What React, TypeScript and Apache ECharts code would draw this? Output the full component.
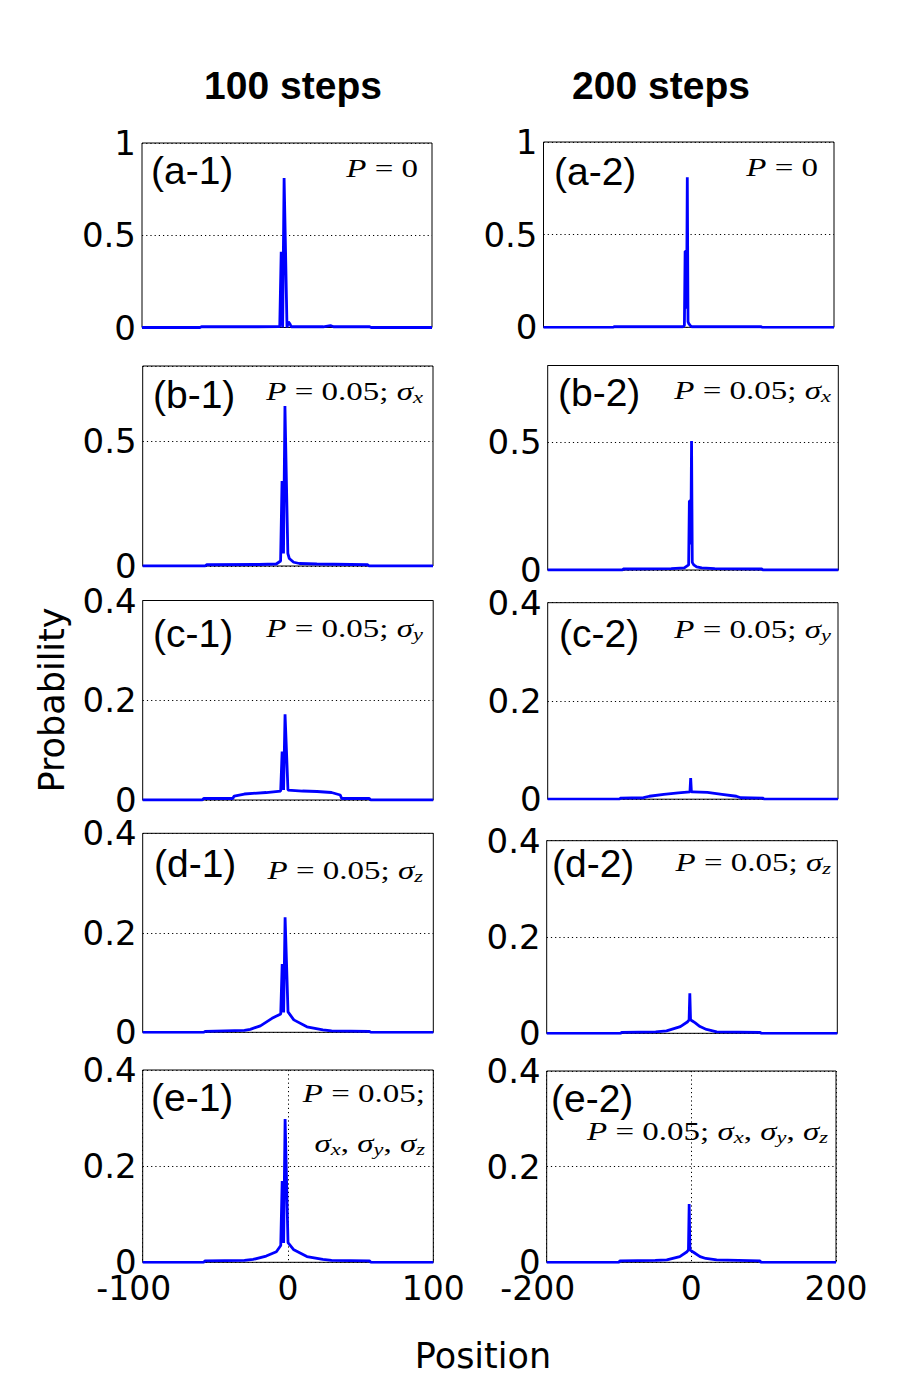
import React, { useEffect, useRef } from "react";
import * as echarts from "echarts";

// ---------- data ----------
const COLUMN_TITLES = ["100 steps", "200 steps"];
const PANEL_LABELS = ["(a-1)", "(a-2)", "(b-1)", "(b-2)", "(c-1)", "(c-2)", "(d-1)", "(d-2)", "(e-1)", "(e-2)"];
const Y_AXIS_NAME = "Probability";
const X_AXIS_NAME = "Position";

const POS_A1 = [-100, -60, -59, -20, -5, -4, -3, -2, -1, 0, 1, 2, 3, 25, 30, 32, 57, 58, 100];
const PROB_A1 = [0, 0, 0.004, 0.004, 0.005, 0.41, 0.0, 0.81, 0.41, 0.0, 0.03, 0.02, 0.004, 0.004, 0.01, 0.004, 0.004, 0, 0];

const POS_A2 = [-200, -104, -103, -8, -6, -5, -4, -3, -2, -1, 0, 2, 4, 100, 101, 200];
const PROB_A2 = [0, 0, 0.003, 0.003, 0.01, 0.41, 0.41, 0.1, 0.81, 0.03, 0.02, 0.01, 0.003, 0.003, 0, 0];

const POS_B1 = [-100, -57, -56, -20, -8, -5, -4, -3, -2, -1, 0, 1, 4, 8, 20, 55, 56, 100];
const PROB_B1 = [0, 0, 0.005, 0.006, 0.008, 0.02, 0.34, 0.05, 0.64, 0.34, 0.05, 0.03, 0.015, 0.01, 0.008, 0.005, 0, 0];

const POS_B2 = [-200, -97, -96, -30, -12, -6, -5, -4, -3, -2, -1, 1, 5, 12, 30, 95, 96, 200];
const PROB_B2 = [0, 0, 0.004, 0.005, 0.008, 0.02, 0.27, 0.27, 0.1, 0.505, 0.03, 0.02, 0.012, 0.008, 0.005, 0.004, 0, 0];

const POS_C1 = [-100, -59, -58, -38, -37, -30, -15, -5, -4, -3, -2, -1, 0, 10, 20, 30, 36, 37, 56, 57, 100];
const PROB_C1 = [0, 0, 0.003, 0.003, 0.008, 0.012, 0.015, 0.018, 0.097, 0.02, 0.172, 0.097, 0.02, 0.018, 0.017, 0.015, 0.01, 0.003, 0.003, 0, 0];

const POS_C2 = [-200, -101, -100, -68, -60, -40, -20, -4, -3, -2, 0, 20, 40, 60, 66, 97, 98, 200];
const PROB_C2 = [0, 0, 0.002, 0.003, 0.006, 0.01, 0.013, 0.015, 0.043, 0.015, 0.015, 0.014, 0.01, 0.006, 0.003, 0.002, 0, 0];

const POS_D1 = [-100, -58, -57, -30, -26, -19, -11, -5, -4, -3, -2, -1, 0, 4, 13, 24, 30, 56, 57, 100];
const PROB_D1 = [0, 0, 0.002, 0.004, 0.006, 0.013, 0.028, 0.037, 0.137, 0.04, 0.231, 0.137, 0.041, 0.025, 0.011, 0.005, 0.003, 0.002, 0, 0];

const POS_D2 = [-200, -98, -97, -50, -35, -16, -6, -4, -3, -2, 0, 4, 11, 20, 34, 94, 95, 200];
const PROB_D2 = [0, 0, 0.002, 0.003, 0.005, 0.014, 0.024, 0.028, 0.083, 0.028, 0.026, 0.022, 0.014, 0.008, 0.003, 0.002, 0, 0];

const POS_E1 = [-100, -58, -57, -30, -24, -15, -8, -5, -4, -3, -2, -1, 0, 4, 13, 24, 30, 56, 57, 100];
const PROB_E1 = [0, 0, 0.003, 0.004, 0.006, 0.013, 0.022, 0.035, 0.169, 0.04, 0.298, 0.169, 0.041, 0.026, 0.012, 0.006, 0.004, 0.003, 0, 0];

const POS_E2 = [-200, -100, -99, -50, -34, -16, -6, -4, -3, -2, 0, 4, 12, 20, 35, 95, 96, 200];
const PROB_E2 = [0, 0, 0.003, 0.004, 0.005, 0.012, 0.022, 0.026, 0.122, 0.026, 0.024, 0.02, 0.012, 0.008, 0.005, 0.003, 0, 0];

const X_RANGES = [100, 200];
const Y_MAX = [1, 1, 0.8, 0.8, 0.4, 0.4, 0.4, 0.4, 0.4, 0.4];
const Y_INTERVAL = [0.5, 0.5, 0.5, 0.5, 0.2, 0.2, 0.2, 0.2, 0.2, 0.2];

const NOTE_P0 = "{i|P} = 0";
const NOTE_SX = "{i|P} = 0.05; {i|σ}{s|x}";
const NOTE_SY = "{i|P} = 0.05; {i|σ}{s|y}";
const NOTE_SZ = "{i|P} = 0.05; {i|σ}{s|z}";
const NOTE_ALL_1 = "{i|P} = 0.05;";
const NOTE_ALL_2 = "{i|σ}{s|x}, {i|σ}{s|y}, {i|σ}{s|z}";
const NOTE_ALL = "{i|P} = 0.05; {i|σ}{s|x}, {i|σ}{s|y}, {i|σ}{s|z}";

const SERIES_POS = [POS_A1, POS_A2, POS_B1, POS_B2, POS_C1, POS_C2, POS_D1, POS_D2, POS_E1, POS_E2];
const SERIES_PROB = [PROB_A1, PROB_A2, PROB_B1, PROB_B2, PROB_C1, PROB_C2, PROB_D1, PROB_D2, PROB_E1, PROB_E2];

// ---------- layout (pixels) ----------
const GRIDS: [number, number, number, number][] = [
  [142, 143, 290, 184.5],
  [543.5, 142, 290.5, 185.3],
  [142.7, 366, 290.3, 200],
  [547.7, 365.5, 290.6, 204.5],
  [142.7, 600.5, 290.5, 199.5],
  [547.7, 602.7, 290.3, 196.5],
  [142.7, 833.3, 290.6, 199],
  [546.7, 840.7, 290.6, 192.6],
  [142.7, 1070, 290.6, 192.3],
  [546.7, 1071, 289.3, 191.3],
];
const LABEL_XY: [number, number][] = [
  [151, 170], [554, 171], [153, 394], [558, 392], [153, 633],
  [559, 633], [154, 863], [552, 863], [151, 1097], [551, 1098],
];
const NOTE_ITEMS: { text: string; x: number; y: number }[] = [
  { text: NOTE_P0, x: 418, y: 168 },
  { text: NOTE_P0, x: 818, y: 167 },
  { text: NOTE_SX, x: 423, y: 391 },
  { text: NOTE_SX, x: 831, y: 390 },
  { text: NOTE_SY, x: 423, y: 628 },
  { text: NOTE_SY, x: 831, y: 629 },
  { text: NOTE_SZ, x: 423, y: 870 },
  { text: NOTE_SZ, x: 831, y: 862 },
  { text: NOTE_ALL_1, x: 425, y: 1093 },
  { text: NOTE_ALL_2, x: 425, y: 1143 },
  { text: NOTE_ALL, x: 828, y: 1131 },
];

const SANS = "DejaVu Sans";
const SERIF = "Liberation Serif";

function buildOption(): echarts.EChartsOption {
  const grid: any[] = [];
  const xAxis: any[] = [];
  const yAxis: any[] = [];
  const series: any[] = [];
  for (let i = 0; i < 10; i++) {
    const [l, t, w, h] = GRIDS[i];
    const col = i % 2;
    const xr = X_RANGES[col];
    const bottomRow = i >= 8;
    grid.push({ left: l, top: t, width: w, height: h, show: true, borderColor: "#000", borderWidth: 1, backgroundColor: "transparent" });
    xAxis.push({
      type: "value",
      gridIndex: i,
      min: -xr,
      max: xr,
      interval: xr,
      axisLine: { show: false },
      axisTick: { show: false },
      axisLabel: {
        show: bottomRow,
        fontFamily: SANS,
        fontSize: 33,
        color: "#000",
        margin: 10,
        formatter: (v: number) => (v < 0 ? `{n|${v}}` : `${v}`),
        rich: { n: { fontFamily: SANS, fontSize: 33, color: "#000", padding: [0, 18, 0, 0] } },
      },
      splitLine: { show: bottomRow, lineStyle: { color: "#000", type: [1.2, 3], width: 1 } },
    });
    yAxis.push({
      type: "value",
      gridIndex: i,
      min: 0,
      max: Y_MAX[i],
      interval: Y_INTERVAL[i],
      axisLine: { show: false },
      axisTick: { show: false },
      axisLabel: {
        fontFamily: SANS,
        fontSize: 34,
        color: "#000",
        margin: 6,
        showMaxLabel: Y_MAX[i] === 0.8 ? false : true,
      },
      splitLine: { show: true, lineStyle: { color: "#000", type: [1.2, 3], width: 1 } },
    });
    const pos = SERIES_POS[i];
    const prob = SERIES_PROB[i];
    series.push({
      type: "line",
      xAxisIndex: i,
      yAxisIndex: i,
      showSymbol: false,
      symbol: "none",
      silent: true,
      lineStyle: { color: "#0000ff", width: 2.8 },
      data: pos.map((p, k) => [p, prob[k]]),
      z: 3,
    });
  }

  const richStyles = {
    i: { fontFamily: SERIF, fontStyle: "italic", fontWeight: "normal", fontSize: 25, lineHeight: 30, fill: "#000" },
    s: { fontFamily: SERIF, fontStyle: "italic", fontWeight: "normal", fontSize: 17, lineHeight: 17, verticalAlign: "bottom", fill: "#000" },
  };

  const graphic: any[] = [];
  graphic.push({
    type: "text", x: 293, y: 85,
    style: { text: COLUMN_TITLES[0], font: `bold 39px "Liberation Sans"`, fill: "#000", align: "center", verticalAlign: "middle", textAlign: "center", textVerticalAlign: "middle" },
  });
  graphic.push({
    type: "text", x: 661, y: 85,
    style: { text: COLUMN_TITLES[1], font: `bold 39px "Liberation Sans"`, fill: "#000", align: "center", verticalAlign: "middle", textAlign: "center", textVerticalAlign: "middle" },
  });
  graphic.push({
    type: "text", x: 52, y: 700, rotation: Math.PI / 2,
    style: { text: Y_AXIS_NAME, font: `35px "${SANS}"`, fill: "#000", align: "center", verticalAlign: "middle", textAlign: "center", textVerticalAlign: "middle" },
  });
  graphic.push({
    type: "text", x: 483, y: 1356,
    style: { text: X_AXIS_NAME, font: `35px "${SANS}"`, fill: "#000", align: "center", verticalAlign: "middle", textAlign: "center", textVerticalAlign: "middle" },
  });
  for (let i = 0; i < 10; i++) {
    const [x, y] = LABEL_XY[i];
    graphic.push({
      type: "text", x, y, z: 10,
      style: { text: PANEL_LABELS[i], font: `39px "Liberation Sans"`, fill: "#000", align: "left", verticalAlign: "middle", textAlign: "left", textVerticalAlign: "middle" },
    });
  }
  for (const n of NOTE_ITEMS) {
    graphic.push({
      type: "text", x: n.x, y: n.y, scaleX: 1.32, z: 10,
      style: {
        text: n.text,
        fontFamily: SERIF,
        fontWeight: "normal",
        fontSize: 25,
        lineHeight: 30,
        fill: "#000",
        rich: richStyles,
        align: "right",
        verticalAlign: "middle",
        textAlign: "right",
        textVerticalAlign: "middle",
      },
    });
  }

  return {
    animation: false,
    backgroundColor: "#fff",
    grid,
    xAxis,
    yAxis,
    series,
    graphic,
  } as any;
}

export default function App() {
  const ref = useRef<HTMLDivElement>(null);
  useEffect(() => {
    if (!ref.current) return;
    const chart = echarts.init(ref.current, undefined, { renderer: "svg" });
    chart.setOption(buildOption());
    return () => chart.dispose();
  }, []);
  return (
    <div
      ref={ref}
      style={{ position: "absolute", left: 0, top: 0, width: 900, height: 1400, background: "#fff" }}
    />
  );
}
